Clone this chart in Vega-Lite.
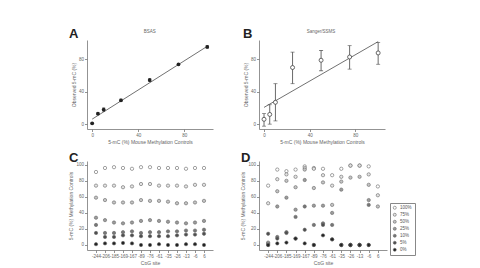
{
  "$schema": "https://vega.github.io/schema/vega-lite/v6.json",
  "background": "white",
  "padding": {"left": 68, "top": 27, "right": 0, "bottom": 0},
  "config": {
    "font": "Liberation Sans",
    "view": {"stroke": null},
    "axis": {"grid": false, "domainColor": "#777", "tickColor": "#777", "tickSize": 2.5, "domainWidth": 0.8, "tickWidth": 0.8, "labelFontSize": 4.5, "labelColor": "#666", "labelPadding": 1, "titleFontSize": 5, "titleFontWeight": "normal", "titleColor": "#666", "titlePadding": 2}
  },
  "columns": 2,
  "spacing": {"row": 8, "column": 27},
  "resolve": {"scale": {"x": "independent", "y": "independent", "color": "independent"}, "legend": {"color": "independent"}},
  "datasets": {
    "a_pts": [
      {"x": 0, "y": 1, "lo": 0, "hi": 2},
      {"x": 5, "y": 13, "lo": 12, "hi": 14},
      {"x": 10, "y": 18, "lo": 16, "hi": 20},
      {"x": 25, "y": 29.5, "lo": 28, "hi": 31},
      {"x": 50, "y": 54.5, "lo": 52.5, "hi": 56.5},
      {"x": 75, "y": 74, "lo": 73, "hi": 75},
      {"x": 100, "y": 95.5, "lo": 94, "hi": 97}
    ],
    "a_fit": [{"x": 0, "y": 6.2}, {"x": 100, "y": 96.2}],
    "b_pts": [
      {"x": 0, "y": 6, "lo": -2.5, "hi": 13},
      {"x": 5, "y": 12, "lo": 0, "hi": 24},
      {"x": 10, "y": 27, "lo": 4, "hi": 50},
      {"x": 25, "y": 70, "lo": 50, "hi": 89},
      {"x": 50, "y": 79, "lo": 66, "hi": 91},
      {"x": 75, "y": 83, "lo": 68, "hi": 97},
      {"x": 100, "y": 88, "lo": 74, "hi": 101}
    ],
    "b_fit": [{"x": 0, "y": 20.7}, {"x": 100, "y": 102}],
    "c": [
      {"site": "-244", "level": "100%", "v": 91}, {"site": "-206", "level": "100%", "v": 96}, {"site": "-185", "level": "100%", "v": 97}, {"site": "-169", "level": "100%", "v": 96}, {"site": "-167", "level": "100%", "v": 95}, {"site": "-89", "level": "100%", "v": 97}, {"site": "-76", "level": "100%", "v": 97}, {"site": "-61", "level": "100%", "v": 96}, {"site": "-35", "level": "100%", "v": 96}, {"site": "-26", "level": "100%", "v": 96}, {"site": "-13", "level": "100%", "v": 95}, {"site": "-6", "level": "100%", "v": 96}, {"site": "6", "level": "100%", "v": 96},
      {"site": "-244", "level": "75%", "v": 74}, {"site": "-206", "level": "75%", "v": 74}, {"site": "-185", "level": "75%", "v": 74}, {"site": "-169", "level": "75%", "v": 72}, {"site": "-167", "level": "75%", "v": 73}, {"site": "-89", "level": "75%", "v": 76}, {"site": "-76", "level": "75%", "v": 76}, {"site": "-61", "level": "75%", "v": 74}, {"site": "-35", "level": "75%", "v": 74}, {"site": "-26", "level": "75%", "v": 74}, {"site": "-13", "level": "75%", "v": 73}, {"site": "-6", "level": "75%", "v": 75}, {"site": "6", "level": "75%", "v": 75},
      {"site": "-244", "level": "50%", "v": 59}, {"site": "-206", "level": "50%", "v": 56}, {"site": "-185", "level": "50%", "v": 53}, {"site": "-169", "level": "50%", "v": 53}, {"site": "-167", "level": "50%", "v": 53}, {"site": "-89", "level": "50%", "v": 56}, {"site": "-76", "level": "50%", "v": 55}, {"site": "-61", "level": "50%", "v": 55}, {"site": "-35", "level": "50%", "v": 54}, {"site": "-26", "level": "50%", "v": 52}, {"site": "-13", "level": "50%", "v": 52}, {"site": "-6", "level": "50%", "v": 53}, {"site": "6", "level": "50%", "v": 55},
      {"site": "-244", "level": "25%", "v": 34}, {"site": "-206", "level": "25%", "v": 31}, {"site": "-185", "level": "25%", "v": 28}, {"site": "-169", "level": "25%", "v": 27}, {"site": "-167", "level": "25%", "v": 28}, {"site": "-89", "level": "25%", "v": 30}, {"site": "-76", "level": "25%", "v": 31}, {"site": "-61", "level": "25%", "v": 30}, {"site": "-35", "level": "25%", "v": 29}, {"site": "-26", "level": "25%", "v": 28}, {"site": "-13", "level": "25%", "v": 27}, {"site": "-6", "level": "25%", "v": 28}, {"site": "6", "level": "25%", "v": 30},
      {"site": "-244", "level": "10%", "v": 25}, {"site": "-206", "level": "10%", "v": 15}, {"site": "-185", "level": "10%", "v": 15}, {"site": "-169", "level": "10%", "v": 16}, {"site": "-167", "level": "10%", "v": 17}, {"site": "-89", "level": "10%", "v": 15}, {"site": "-76", "level": "10%", "v": 16}, {"site": "-61", "level": "10%", "v": 16}, {"site": "-35", "level": "10%", "v": 17}, {"site": "-26", "level": "10%", "v": 17}, {"site": "-13", "level": "10%", "v": 18}, {"site": "-6", "level": "10%", "v": 18}, {"site": "6", "level": "10%", "v": 19},
      {"site": "-244", "level": "5%", "v": 15}, {"site": "-206", "level": "5%", "v": 10}, {"site": "-185", "level": "5%", "v": 10}, {"site": "-169", "level": "5%", "v": 12}, {"site": "-167", "level": "5%", "v": 12}, {"site": "-89", "level": "5%", "v": 11}, {"site": "-76", "level": "5%", "v": 11}, {"site": "-61", "level": "5%", "v": 11}, {"site": "-35", "level": "5%", "v": 11}, {"site": "-26", "level": "5%", "v": 12}, {"site": "-13", "level": "5%", "v": 13}, {"site": "-6", "level": "5%", "v": 13}, {"site": "6", "level": "5%", "v": 14},
      {"site": "-244", "level": "0%", "v": 1}, {"site": "-206", "level": "0%", "v": 2}, {"site": "-185", "level": "0%", "v": 2}, {"site": "-169", "level": "0%", "v": 2.5}, {"site": "-167", "level": "0%", "v": 2}, {"site": "-89", "level": "0%", "v": 0}, {"site": "-76", "level": "0%", "v": 0}, {"site": "-61", "level": "0%", "v": 1}, {"site": "-35", "level": "0%", "v": 0}, {"site": "-26", "level": "0%", "v": 0}, {"site": "-13", "level": "0%", "v": 1}, {"site": "-6", "level": "0%", "v": 1}, {"site": "6", "level": "0%", "v": 0}
    ],
    "d": [
      {"site": "-244", "level": "100%", "v": 74}, {"site": "-244", "level": "75%", "v": 52}, {"site": "-244", "level": "50%", "v": 3}, {"site": "-244", "level": "25%", "v": 2}, {"site": "-244", "level": "10%", "v": 0}, {"site": "-244", "level": "5%", "v": 14}, {"site": "-244", "level": "0%", "v": 0},
      {"site": "-206", "level": "100%", "v": 94}, {"site": "-206", "level": "75%", "v": 82}, {"site": "-206", "level": "50%", "v": 67}, {"site": "-206", "level": "25%", "v": 48}, {"site": "-206", "level": "10%", "v": 10}, {"site": "-206", "level": "5%", "v": 8}, {"site": "-206", "level": "0%", "v": 2},
      {"site": "-185", "level": "100%", "v": 92}, {"site": "-185", "level": "75%", "v": 88}, {"site": "-185", "level": "50%", "v": 80}, {"site": "-185", "level": "25%", "v": 59}, {"site": "-185", "level": "10%", "v": 16}, {"site": "-185", "level": "5%", "v": 15}, {"site": "-185", "level": "0%", "v": 3},
      {"site": "-169", "level": "100%", "v": 94}, {"site": "-169", "level": "75%", "v": 85}, {"site": "-169", "level": "50%", "v": 72}, {"site": "-169", "level": "25%", "v": 44}, {"site": "-169", "level": "10%", "v": 35}, {"site": "-169", "level": "5%", "v": 8}, {"site": "-169", "level": "0%", "v": 8},
      {"site": "-167", "level": "100%", "v": 98}, {"site": "-167", "level": "75%", "v": 96}, {"site": "-167", "level": "50%", "v": 94}, {"site": "-167", "level": "25%", "v": 81}, {"site": "-167", "level": "10%", "v": 48}, {"site": "-167", "level": "5%", "v": 19}, {"site": "-167", "level": "0%", "v": 2},
      {"site": "-89", "level": "100%", "v": 96}, {"site": "-89", "level": "75%", "v": 95}, {"site": "-89", "level": "50%", "v": 71}, {"site": "-89", "level": "25%", "v": 49}, {"site": "-89", "level": "10%", "v": 25}, {"site": "-89", "level": "5%", "v": 0}, {"site": "-89", "level": "0%", "v": 0},
      {"site": "-76", "level": "100%", "v": 95}, {"site": "-76", "level": "75%", "v": 87}, {"site": "-76", "level": "50%", "v": 78}, {"site": "-76", "level": "25%", "v": 49}, {"site": "-76", "level": "10%", "v": 27}, {"site": "-76", "level": "5%", "v": 25}, {"site": "-76", "level": "0%", "v": 12},
      {"site": "-61", "level": "100%", "v": 87}, {"site": "-61", "level": "75%", "v": 74}, {"site": "-61", "level": "50%", "v": 50}, {"site": "-61", "level": "25%", "v": 40}, {"site": "-61", "level": "10%", "v": 25}, {"site": "-61", "level": "5%", "v": 7}, {"site": "-61", "level": "0%", "v": 7},
      {"site": "-35", "level": "100%", "v": 95}, {"site": "-35", "level": "75%", "v": 85}, {"site": "-35", "level": "50%", "v": 79}, {"site": "-35", "level": "25%", "v": 69}, {"site": "-35", "level": "10%", "v": 0}, {"site": "-35", "level": "5%", "v": 0}, {"site": "-35", "level": "0%", "v": 0},
      {"site": "-26", "level": "100%", "v": 99}, {"site": "-26", "level": "75%", "v": 99}, {"site": "-26", "level": "50%", "v": 84}, {"site": "-26", "level": "25%", "v": 0}, {"site": "-26", "level": "10%", "v": 0}, {"site": "-26", "level": "5%", "v": 0}, {"site": "-26", "level": "0%", "v": 0},
      {"site": "-13", "level": "100%", "v": 99}, {"site": "-13", "level": "75%", "v": 99}, {"site": "-13", "level": "50%", "v": 85}, {"site": "-13", "level": "25%", "v": 0}, {"site": "-13", "level": "10%", "v": 0}, {"site": "-13", "level": "5%", "v": 0}, {"site": "-13", "level": "0%", "v": 0},
      {"site": "-6", "level": "100%", "v": 98}, {"site": "-6", "level": "75%", "v": 88}, {"site": "-6", "level": "50%", "v": 75}, {"site": "-6", "level": "25%", "v": 56}, {"site": "-6", "level": "10%", "v": 50}, {"site": "-6", "level": "5%", "v": 0}, {"site": "-6", "level": "0%", "v": 0},
      {"site": "6", "level": "100%", "v": 73}, {"site": "6", "level": "75%", "v": 62}, {"site": "6", "level": "50%", "v": 48}
    ]
  },
  "concat": [
    {
      "width": 126, "height": 89,
      "layer": [
        {
          "data": {"name": "a_fit"},
          "mark": {"type": "line", "color": "#333", "strokeWidth": 0.7},
          "encoding": {
            "x": {"field": "x", "type": "quantitative", "scale": {"domain": [-4.5, 105], "nice": false, "zero": false}, "axis": {"values": [0, 20, 40, 60, 80, 100], "title": "5-mC (%) Mouse Methylation Controls"}},
            "y": {"field": "y", "type": "quantitative", "scale": {"domain": [-6, 104], "nice": false, "zero": false}, "axis": {"values": [0, 20, 40, 60, 80, 100], "title": "Observed 5-mC (%)"}}
          }
        },
        {
          "data": {"name": "a_pts"},
          "mark": {"type": "errorbar", "ticks": {"size": 3, "color": "#222"}, "color": "#222", "thickness": 0.8},
          "encoding": {
            "x": {"field": "x", "type": "quantitative", "title": "5-mC (%) Mouse Methylation Controls"},
            "y": {"field": "lo", "type": "quantitative", "title": "Observed 5-mC (%)"},
            "y2": {"field": "hi"}
          }
        },
        {
          "data": {"name": "a_pts"},
          "mark": {"type": "point", "filled": true, "color": "#222", "size": 14, "opacity": 1},
          "encoding": {
            "x": {"field": "x", "type": "quantitative", "title": "5-mC (%) Mouse Methylation Controls"},
            "y": {"field": "y", "type": "quantitative", "title": "Observed 5-mC (%)"}
          }
        },
        {
          "data": {"values": [{"t": "BSAS"}]},
          "mark": {"type": "text", "fontSize": 4.5, "color": "#666", "baseline": "middle"},
          "encoding": {"text": {"field": "t"}, "x": {"datum": 50}, "y": {"datum": 114}}
        },
        {
          "data": {"values": [{"t": "A"}]},
          "mark": {"type": "text", "fontSize": 13, "fontWeight": "bold", "color": "#222", "align": "left", "baseline": "alphabetic"},
          "encoding": {"text": {"field": "t"}, "x": {"datum": -20.2}, "y": {"datum": 106.5}}
        }
      ]
    },
    {
      "width": 126, "height": 89,
      "layer": [
        {
          "data": {"name": "b_fit"},
          "mark": {"type": "line", "color": "#333", "strokeWidth": 0.7},
          "encoding": {
            "x": {"field": "x", "type": "quantitative", "scale": {"domain": [-4.4, 106], "nice": false, "zero": false}, "axis": {"values": [0, 20, 40, 60, 80, 100], "title": "5-mC (%) Mouse Methylation Controls"}},
            "y": {"field": "y", "type": "quantitative", "scale": {"domain": [-6, 104], "nice": false, "zero": false}, "axis": {"values": [0, 20, 40, 60, 80, 100], "title": "Observed 5-mC (%)"}}
          }
        },
        {
          "data": {"name": "b_pts"},
          "mark": {"type": "errorbar", "ticks": {"size": 4, "color": "#444"}, "color": "#444", "thickness": 0.8},
          "encoding": {
            "x": {"field": "x", "type": "quantitative", "title": "5-mC (%) Mouse Methylation Controls"},
            "y": {"field": "lo", "type": "quantitative", "title": "Observed 5-mC (%)"},
            "y2": {"field": "hi"}
          }
        },
        {
          "data": {"name": "b_pts"},
          "mark": {"type": "point", "filled": true, "fill": "white", "stroke": "#444", "strokeWidth": 0.8, "size": 16, "opacity": 1},
          "encoding": {
            "x": {"field": "x", "type": "quantitative", "title": "5-mC (%) Mouse Methylation Controls"},
            "y": {"field": "y", "type": "quantitative", "title": "Observed 5-mC (%)"}
          }
        },
        {
          "data": {"values": [{"t": "Sanger/SSMS"}]},
          "mark": {"type": "text", "fontSize": 4.5, "color": "#666", "baseline": "middle"},
          "encoding": {"text": {"field": "t"}, "x": {"datum": 50}, "y": {"datum": 114}}
        },
        {
          "data": {"values": [{"t": "B"}]},
          "mark": {"type": "text", "fontSize": 13, "fontWeight": "bold", "color": "#222", "align": "left", "baseline": "alphabetic"},
          "encoding": {"text": {"field": "t"}, "x": {"datum": -18.4}, "y": {"datum": 106.5}}
        }
      ]
    },
    {
      "width": 126, "height": 89,
      "title": {"text": "C", "anchor": "start", "frame": "bounds", "fontSize": 13, "fontWeight": "bold", "color": "#222", "offset": -4},
      "data": {"name": "c"},
      "mark": {"type": "point", "filled": true, "stroke": "#666", "strokeWidth": 0.6, "size": 11, "opacity": 1},
      "encoding": {
        "x": {"field": "site", "type": "nominal", "sort": ["-244","-206","-185","-169","-167","-89","-76","-61","-35","-26","-13","-6","6"], "scale": {"type": "point", "padding": 1}, "axis": {"labelAngle": 0, "title": "CpG site"}},
        "y": {"field": "v", "type": "quantitative", "scale": {"domain": [-6.25, 104.7], "nice": false, "zero": false}, "axis": {"values": [0, 20, 40, 60, 80, 100], "title": "5-mC (%) Methylation Controls"}},
        "color": {"field": "level", "type": "nominal", "scale": {"domain": ["100%","75%","50%","25%","10%","5%","0%"], "range": ["#ffffff","#e4e4e4","#c4c4c4","#9c9c9c","#767676","#4e4e4e","#222222"]}, "legend": null}
      }
    },
    {
      "width": 128, "height": 89,
      "title": {"text": "D", "anchor": "start", "frame": "bounds", "fontSize": 13, "fontWeight": "bold", "color": "#222", "offset": -4},
      "data": {"name": "d"},
      "mark": {"type": "point", "filled": true, "stroke": "#666", "strokeWidth": 0.6, "size": 11, "opacity": 1},
      "encoding": {
        "x": {"field": "site", "type": "nominal", "sort": ["-244","-206","-185","-169","-167","-89","-76","-61","-35","-26","-13","-6","6"], "scale": {"type": "point", "padding": 1.1}, "axis": {"labelAngle": 0, "title": "CpG site"}},
        "y": {"field": "v", "type": "quantitative", "scale": {"domain": [-6.25, 104.7], "nice": false, "zero": false}, "axis": {"values": [0, 20, 40, 60, 80, 100], "title": "5-mC (%) Methylation Controls"}},
        "color": {"field": "level", "type": "nominal", "scale": {"domain": ["100%","75%","50%","25%","10%","5%","0%"], "range": ["#ffffff","#e4e4e4","#c4c4c4","#9c9c9c","#767676","#4e4e4e","#222222"]},
          "legend": {"title": null, "orient": "none", "legendX": 131, "legendY": 42, "strokeColor": "#888", "padding": 2.5, "labelFontSize": 4.5, "labelColor": "#555", "symbolSize": 9, "symbolStrokeColor": "#666", "symbolStrokeWidth": 0.6, "rowPadding": 1, "labelOffset": 3, "symbolType": "circle", "labelLimit": 30}}
      }
    }
  ]
}
